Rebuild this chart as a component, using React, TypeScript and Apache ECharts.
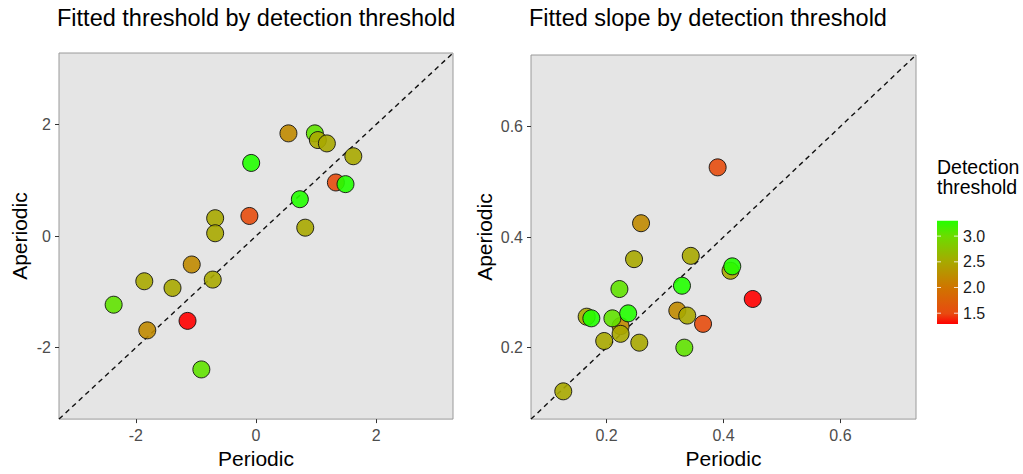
import React, { useEffect, useRef } from "react";
import * as echarts from "echarts";

// ---------- data ----------
const leftPeriodic = [0.54, 0.98, 1.03, 1.18, 1.62, -0.08, 1.33, 1.49, 0.73, -0.11, -0.68, -0.68, 0.82, -1.07, -1.86, -1.39, -0.72, -2.37, -1.81, -1.14, -0.91];
const leftAperiodic = [1.84, 1.84, 1.72, 1.66, 1.43, 1.31, 0.96, 0.93, 0.66, 0.36, 0.32, 0.05, 0.15, -0.51, -0.81, -0.93, -0.78, -1.23, -1.69, -1.52, -2.39];
const leftThreshold = [2.2, 3.05, 2.5, 2.5, 2.5, 3.3, 1.53, 3.3, 3.3, 1.53, 2.5, 2.5, 2.5, 2.2, 2.5, 2.5, 2.5, 3.05, 2.2, 1.29, 3.05];

const rightPeriodic = [0.39, 0.259, 0.247, 0.344, 0.412, 0.415, 0.222, 0.329, 0.45, 0.166, 0.174, 0.224, 0.21, 0.237, 0.224, 0.196, 0.256, 0.321, 0.338, 0.365, 0.333, 0.126];
const rightAperiodic = [0.526, 0.425, 0.36, 0.366, 0.339, 0.347, 0.306, 0.312, 0.288, 0.256, 0.253, 0.239, 0.253, 0.262, 0.225, 0.212, 0.209, 0.267, 0.258, 0.243, 0.2, 0.121];
const rightThreshold = [1.53, 2.2, 2.5, 2.5, 2.5, 3.3, 3.05, 3.3, 1.29, 2.5, 3.3, 2.2, 3.05, 3.3, 2.5, 2.5, 2.5, 2.2, 2.5, 1.53, 3.05, 2.5];

const leftLimits = [-3.28, 3.28];
const rightLimits = [0.0708, 0.7292];
const leftTicks = [-2, 0, 2];
const rightTicks = [0.2, 0.4, 0.6];
const colorLimits = [1.29, 3.3];
const legendTicks = [1.5, 2.0, 2.5, 3.0];

const titles = ["Fitted threshold by detection threshold", "Fitted slope by detection threshold"];
const xName = "Periodic";
const yName = "Aperiodic";
const legendTitle = "Detection\nthreshold";

// colour ramp (low -> high)
const rampOffsets = [0, 0.1, 0.35, 0.6, 0.85, 1];
const rampColors = ["#ff0000", "#e84a10", "#d07400", "#a8a800", "#6cdc00", "#22ff00"];

const FONT = "'Liberation Sans', Arial, Helvetica, sans-serif";

function rampAt(t: number) {
  const hex = (c: string) => [1, 3, 5].map((k) => parseInt(c.slice(k, k + 2), 16));
  for (let i = 1; i < rampOffsets.length; i++) {
    if (t <= rampOffsets[i] + 1e-9) {
      const u = (t - rampOffsets[i - 1]) / (rampOffsets[i] - rampOffsets[i - 1]);
      const a = hex(rampColors[i - 1]), b = hex(rampColors[i]);
      return "#" + a.map((v, k) => Math.round(v + (b[k] - v) * u).toString(16).padStart(2, "0")).join("");
    }
  }
  return rampColors[rampColors.length - 1];
}
const fineStops: string[] = [];
for (let i = 0; i <= 40; i++) fineStops.push(rampAt(i / 40));

export default function App() {
  const ref = useRef<HTMLDivElement>(null);
  useEffect(() => {
    if (!ref.current) return;
    const chart = echarts.init(ref.current, null, { renderer: "svg" });

    const leftData = leftPeriodic.map((x, i) => [x, leftAperiodic[i], leftThreshold[i]]);
    const rightData = rightPeriodic.map((x, i) => [x, rightAperiodic[i], rightThreshold[i]]);

    const grids = [
      { left: 59, top: 53, width: 394, height: 373 },
      { left: 531, top: 55, width: 385, height: 373 },
    ];
    const limits = [leftLimits, rightLimits];
    const ticks = [leftTicks, rightTicks];
    const fmt = [(v: number) => String(v), (v: number) => Number(v).toFixed(1)];

    const xAxes = [0, 1].map((i) => ({
      type: "value",
      gridIndex: i,
      min: limits[i][0],
      max: limits[i][1],
      name: xName,
      nameLocation: "middle",
      nameGap: 24,
      nameTextStyle: { fontSize: 21, color: "#000", fontFamily: FONT, verticalAlign: "top" },
      axisLine: { show: false, onZero: false },
      splitLine: { show: false },
      axisTick: { show: true, length: 4, lineStyle: { color: "#333", width: 1 }, customValues: ticks[i] },
      axisLabel: { fontSize: 16, color: "#4d4d4d", fontFamily: FONT, margin: 8, customValues: ticks[i], formatter: fmt[i] },
    }));
    const yAxes = [0, 1].map((i) => ({
      type: "value",
      gridIndex: i,
      min: limits[i][0],
      max: limits[i][1],
      name: yName,
      nameLocation: "middle",
      nameGap: i === 0 ? 29 : 36,
      nameTextStyle: { fontSize: 21, color: "#000", fontFamily: FONT },
      axisLine: { show: false, onZero: false },
      splitLine: { show: false },
      axisTick: { show: true, length: 4, lineStyle: { color: "#333", width: 1 }, customValues: ticks[i] },
      axisLabel: { fontSize: 16, color: "#4d4d4d", fontFamily: FONT, margin: 8, customValues: ticks[i], formatter: fmt[i] },
    }));

    // legend geometry
    const barX = 937, barTop = 220.7, barH = 103.3, barW = 21;
    const vToY = (v: number) => barTop + barH - ((v - colorLimits[0]) / (colorLimits[1] - colorLimits[0])) * barH;
    const legendGraphics: any[] = [
      {
        type: "rect",
        shape: { x: barX, y: barTop, width: barW, height: barH },
        style: {
          fill: new echarts.graphic.LinearGradient(
            0, 1, 0, 0,
            rampColors.map((c, i) => ({ offset: rampOffsets[i], color: c }))
          ),
        },
      },
      {
        type: "text",
        x: barX,
        y: 177,
        style: { text: legendTitle, fontSize: 19.5, fill: "#000", fontFamily: FONT, verticalAlign: "middle", lineHeight: 20 },
      },
    ];
    legendTicks.forEach((v) => {
      const y = vToY(v);
      legendGraphics.push(
        { type: "line", shape: { x1: barX, y1: y, x2: barX + 4, y2: y }, style: { stroke: "rgba(255,255,255,0.8)", lineWidth: 1 } },
        { type: "line", shape: { x1: barX + barW - 4, y1: y, x2: barX + barW, y2: y }, style: { stroke: "rgba(255,255,255,0.8)", lineWidth: 1 } },
        { type: "text", x: barX + barW + 5, y, style: { text: v.toFixed(1), fontSize: 16, fill: "#1a1a1a", fontFamily: FONT, verticalAlign: "middle" } }
      );
    });

    const option: any = {
      animation: false,
      textStyle: { fontFamily: FONT },
      title: [
        { text: titles[0], left: 57, top: 6, padding: 0, textStyle: { fontSize: 23.5, fontWeight: "normal", color: "#000", fontFamily: FONT } },
        { text: titles[1], left: 529, top: 6, padding: 0, textStyle: { fontSize: 23.5, fontWeight: "normal", color: "#000", fontFamily: FONT } },
      ],
      grid: grids.map((g) => ({ ...g, show: true, backgroundColor: "#e5e5e5", borderColor: "#9a9a9a", borderWidth: 1 })),
      xAxis: xAxes,
      yAxis: yAxes,
      visualMap: {
        type: "continuous",
        show: false,
        min: colorLimits[0],
        max: colorLimits[1],
        dimension: 2,
        seriesIndex: [2, 3],
        inRange: { color: fineStops },
      },
      series: [
        {
          type: "line",
          xAxisIndex: 0,
          yAxisIndex: 0,
          data: [[leftLimits[0], leftLimits[0]], [leftLimits[1], leftLimits[1]]],
          symbol: "none",
          silent: true,
          z: 1,
          lineStyle: { color: "#111", width: 1.4, type: [5, 4] },
        },
        {
          type: "line",
          xAxisIndex: 1,
          yAxisIndex: 1,
          data: [[rightLimits[0], rightLimits[0]], [rightLimits[1], rightLimits[1]]],
          symbol: "none",
          silent: true,
          z: 1,
          lineStyle: { color: "#111", width: 1.4, type: [5, 4] },
        },
        {
          type: "scatter",
          xAxisIndex: 0,
          yAxisIndex: 0,
          data: leftData,
          symbolSize: 17,
          z: 2,
          itemStyle: { borderColor: "#111", borderWidth: 1, opacity: 0.9 },
        },
        {
          type: "scatter",
          xAxisIndex: 1,
          yAxisIndex: 1,
          data: rightData,
          symbolSize: 17,
          z: 2,
          itemStyle: { borderColor: "#111", borderWidth: 1, opacity: 0.9 },
        },
      ],
      graphic: legendGraphics,
    };
    chart.setOption(option);
    return () => chart.dispose();
  }, []);
  return <div ref={ref} style={{ position: "fixed", left: 0, top: 0, width: 1023, height: 474, background: "#fff" }} />;
}
